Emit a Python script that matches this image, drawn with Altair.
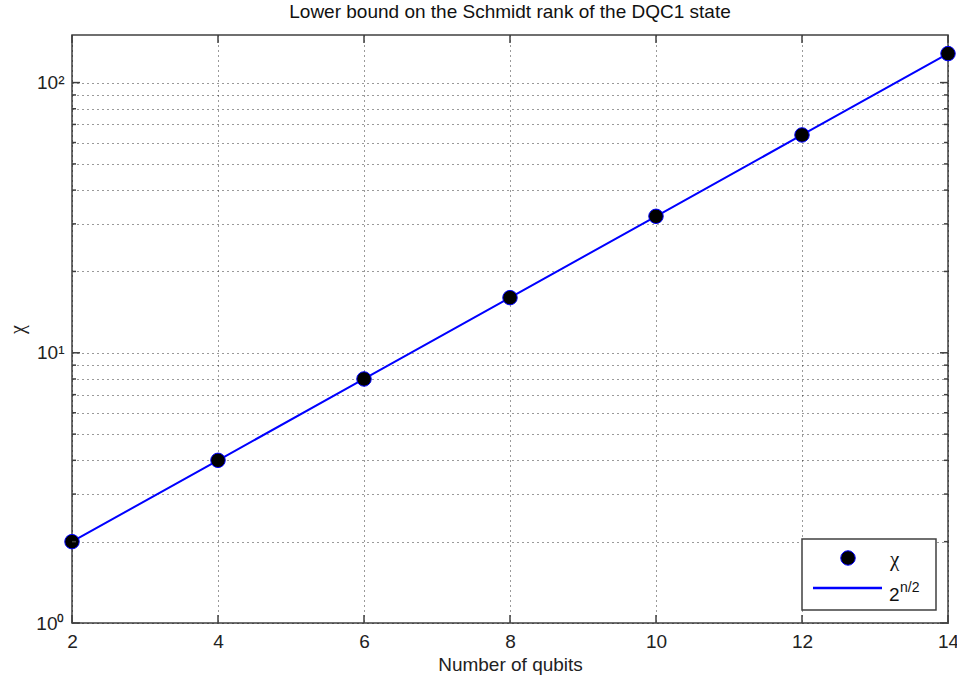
import altair as alt
import pandas as pd

# Qubit counts and the Schmidt-rank lower bound chi = 2^(n/2)
qubits = [2, 4, 6, 8, 10, 12, 14]
chi = [2, 4, 8, 16, 32, 64, 128]

x_ticks = [2, 4, 6, 8, 10, 12, 14]
y_major = [1, 10, 100]
y_minor = [2, 3, 4, 5, 6, 7, 8, 9, 20, 30, 40, 50, 60, 70, 80, 90]

W, H = 876, 588
FONT = "Liberation Sans"
GREEK = "Liberation Serif"
AXIS_COLOR = "#404040"
BLUE = "#0000ff"

df = pd.DataFrame({"n": qubits, "chi": chi})

x_scale = alt.Scale(domain=[2, 14], nice=False, zero=False)
y_scale = alt.Scale(type="log", domain=[1, 150], nice=False)

label_expr = (
    "datum.value == 1 ? '10\u2070' : datum.value == 10 ? '10\u00b9' : "
    "datum.value == 100 ? '10\u00b2' : ''"
)

x_axis = alt.Axis(
    values=x_ticks, format="d", labelFlush=False, grid=True, gridDash=[1, 4],
    gridColor="#111", gridWidth=1, gridOpacity=0.85, ticks=False, domain=False,
    labelFontSize=19, labelFont=FONT, labelColor="#222", labelPadding=9,
    title="Number of qubits", titleFont=FONT, titleFontSize=19,
    titleFontWeight="normal", titleColor="#222", titlePadding=4,
)
y_axis = alt.Axis(
    values=y_major + y_minor, grid=True, gridDash=[1, 4], gridColor="#111",
    gridWidth=1, gridOpacity=0.85, ticks=False, domain=False, labelExpr=label_expr,
    labelFlush=False, labelFontSize=19, labelFont=FONT, labelColor="#222",
    labelPadding=8, title="\u03c7", titleFont=GREEK, titleFontSize=20,
    titleFontWeight="normal", titleColor="#222", titlePadding=8,
)

line = alt.Chart(df).mark_line(color=BLUE, strokeWidth=2).encode(
    x=alt.X("n:Q", scale=x_scale, axis=x_axis),
    y=alt.Y("chi:Q", scale=y_scale, axis=y_axis),
)
points = alt.Chart(df).mark_point(
    shape="circle", filled=False, fill="black", fillOpacity=1, stroke=BLUE,
    strokeWidth=1, size=210, opacity=1,
).encode(x=alt.X("n:Q", scale=x_scale), y=alt.Y("chi:Q", scale=y_scale))

# Inward tick marks on all four sides of the box
xt = pd.DataFrame({"n": x_ticks})
x_tick_bottom = alt.Chart(xt).mark_rule(color=AXIS_COLOR, strokeWidth=1.5).encode(
    x=alt.X("n:Q", scale=x_scale), y=alt.value(H), y2=alt.value(H - 8)
)
x_tick_top = alt.Chart(xt).mark_rule(color=AXIS_COLOR, strokeWidth=1.5).encode(
    x=alt.X("n:Q", scale=x_scale), y=alt.value(0), y2=alt.value(8)
)
ym = pd.DataFrame({"v": y_major})
yn = pd.DataFrame({"v": y_minor})


def y_ticks(frame, length):
    left = alt.Chart(frame).mark_rule(color=AXIS_COLOR, strokeWidth=1.5).encode(
        y=alt.Y("v:Q", scale=y_scale), x=alt.value(0), x2=alt.value(length)
    )
    right = alt.Chart(frame).mark_rule(color=AXIS_COLOR, strokeWidth=1.5).encode(
        y=alt.Y("v:Q", scale=y_scale), x=alt.value(W), x2=alt.value(W - length)
    )
    return left + right


one = alt.Data(values=[{}])
LX0, LX1, LY0, LY1 = 730, 864, 504, 575
legend_box = alt.Chart(one).mark_rect(
    fill="white", stroke=AXIS_COLOR, strokeWidth=1.5
).encode(x=alt.value(LX0), x2=alt.value(LX1), y=alt.value(LY0), y2=alt.value(LY1))
legend_dot = alt.Chart(one).mark_point(
    shape="circle", filled=False, fill="black", fillOpacity=1, stroke=BLUE,
    strokeWidth=1, size=210, opacity=1,
).encode(x=alt.value(776), y=alt.value(523))
legend_chi = alt.Chart(one).mark_text(
    text="\u03c7", font=GREEK, fontSize=21, align="left", baseline="middle", color="#111"
).encode(x=alt.value(818), y=alt.value(525))
legend_line = alt.Chart(one).mark_rule(color=BLUE, strokeWidth=2.5).encode(
    x=alt.value(741), x2=alt.value(810), y=alt.value(553)
)
legend_two = alt.Chart(one).mark_text(
    text="2", font=FONT, fontSize=19, align="left", baseline="alphabetic", color="#111"
).encode(x=alt.value(817), y=alt.value(566))
legend_exp = alt.Chart(one).mark_text(
    text="n/2", font=FONT, fontSize=14, align="left", baseline="alphabetic", color="#111"
).encode(x=alt.value(828), y=alt.value(557))

chart = (
    alt.layer(
        line, points, x_tick_bottom, x_tick_top, y_ticks(ym, 8), y_ticks(yn, 4),
        legend_box, legend_dot, legend_chi, legend_line, legend_two, legend_exp,
    )
    .properties(
        width=W, height=H,
        autosize=alt.AutoSizeParams(type="none"),
        padding={"left": 72, "top": 35, "right": 9, "bottom": 57},
        title=alt.TitleParams(
            "Lower bound on the Schmidt rank of the DQC1 state", font=FONT,
            fontSize=19, fontWeight="normal", color="#111", anchor="middle", offset=12,
        ),
        background="white",
    )
    .configure_view(stroke=AXIS_COLOR, strokeWidth=1.5)
)

chart.save("out.html", embed_options={"renderer": "svg", "actions": False})
